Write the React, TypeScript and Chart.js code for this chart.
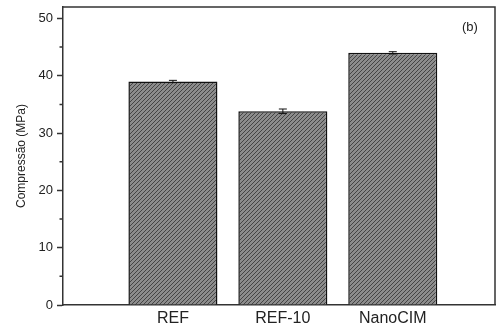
import React, { useEffect, useRef } from "react";
import { Chart, registerables } from "chart.js";

Chart.register(...registerables);

const categories = ["REF", "REF-10", "NanoCIM"];
const positions = [1, 2, 3];
const values = [39.0, 33.8, 44.0];
const errors = [0.2, 0.4, 0.2];
const yMajorTicks = [0, 10, 20, 30, 40, 50];
const yMinorTicks = [5, 15, 25, 35, 45];
const panelLabel = "(b)";
const yTitle = "Compressão (MPa)";

const FONT = "'Liberation Sans', Arial, sans-serif";

function makePattern(): CanvasPattern | string {
  const c = document.createElement("canvas");
  c.width = 4;
  c.height = 4;
  const ctx = c.getContext("2d");
  if (!ctx) return "#666666";
  ctx.fillStyle = "#8c8c8c";
  ctx.fillRect(0, 0, 4, 4);
  ctx.strokeStyle = "#444444";
  ctx.lineWidth = 1;
  ctx.beginPath();
  ctx.moveTo(-1, 5);
  ctx.lineTo(5, -1);
  ctx.moveTo(-1, 1);
  ctx.lineTo(1, -1);
  ctx.moveTo(3, 5);
  ctx.lineTo(5, 3);
  ctx.stroke();
  const p = ctx.createPattern(c, "repeat");
  return p || "#666666";
}

const extrasPlugin = {
  id: "extras",
  afterDatasetsDraw(chart: any) {
    const { ctx, chartArea, scales } = chart;
    const y = scales.y;
    const meta = chart.getDatasetMeta(0);
    ctx.save();
    // error bars
    ctx.strokeStyle = "#111";
    ctx.lineWidth = 1;
    meta.data.forEach((bar: any, i: number) => {
      const x = bar.x;
      const top = y.getPixelForValue(values[i] + errors[i]);
      const bot = y.getPixelForValue(values[i] - errors[i]);
      ctx.beginPath();
      ctx.moveTo(x, top);
      ctx.lineTo(x, bot);
      ctx.moveTo(x - 4, top);
      ctx.lineTo(x + 4, top);
      ctx.moveTo(x - 4, bot);
      ctx.lineTo(x + 4, bot);
      ctx.stroke();
    });
    // frame
    ctx.strokeStyle = "#333";
    ctx.lineWidth = 1.5;
    ctx.beginPath();
    ctx.moveTo(chartArea.left, chartArea.top);
    ctx.lineTo(chartArea.right, chartArea.top);
    ctx.lineTo(chartArea.right, chartArea.bottom);
    ctx.stroke();
    // minor ticks
    ctx.lineWidth = 1.5;
    ctx.beginPath();
    yMinorTicks.forEach((v) => {
      const py = y.getPixelForValue(v);
      ctx.moveTo(chartArea.left - 3.5, py);
      ctx.lineTo(chartArea.left, py);
    });
    ctx.stroke();
    // panel label
    ctx.fillStyle = "#222";
    ctx.font = `13px ${FONT}`;
    ctx.textBaseline = "middle";
    ctx.textAlign = "left";
    ctx.fillText(panelLabel, chartArea.right - 33, chartArea.top + 20);
    ctx.restore();
  },
};

export default function App() {
  const ref = useRef<HTMLCanvasElement>(null);
  useEffect(() => {
    document.body.style.margin = "0";
    const canvas = ref.current;
    if (!canvas) return;
    const pattern = makePattern();
    const chart = new Chart(canvas, {
      type: "bar",
      data: {
        datasets: [
          {
            data: positions.map((p, i) => ({ x: p, y: values[i] })),
            backgroundColor: pattern as any,
            borderColor: "#111",
            borderWidth: 1.5,
            barPercentage: 0.9,
            categoryPercentage: 0.9,
          },
        ],
      },
      options: {
        animation: false,
        responsive: true,
        maintainAspectRatio: false,
        layout: { padding: { left: 0, top: 0, right: 1, bottom: 0 } },
        plugins: { legend: { display: false }, tooltip: { enabled: false } },
        scales: {
          x: {
            type: "linear",
            offset: false,
            min: 0,
            max: 3.93,
            afterBuildTicks: (scale: any) => {
              scale.ticks = positions.map((v) => ({ value: v }));
            },
            afterFit: (scale: any) => {
              scale.height = 22;
              scale.paddingLeft = 0;
              scale.paddingRight = 0;
            },
            grid: { display: false, drawTicks: false, offset: false },
            border: { display: true, color: "#333", width: 1.5 },
            ticks: {
              padding: 4,
              color: "#222",
              font: { family: FONT, size: 16 },
              callback: (v: any) => {
                const i = positions.indexOf(Number(v));
                return i >= 0 ? categories[i] : "";
              },
            },
          },
          y: {
            type: "linear",
            min: 0,
            max: 52,
            afterBuildTicks: (scale: any) => {
              scale.ticks = yMajorTicks.map((v) => ({ value: v }));
            },
            afterFit: (scale: any) => {
              scale.width = 63;
              scale.paddingTop = 7;
              scale.paddingBottom = 0;
            },
            grid: {
              drawOnChartArea: false,
              drawTicks: true,
              tickLength: 6,
              tickWidth: 1.5,
              tickColor: "#333",
            },
            border: { display: true, color: "#333", width: 1.5 },
            ticks: {
              padding: 4,
              color: "#222",
              font: { family: FONT, size: 13 },
            },
            title: {
              display: true,
              text: yTitle,
              color: "#222",
              font: { family: FONT, size: 12 },
              padding: { top: 14, bottom: 0 },
            },
          },
        },
      },
      plugins: [extrasPlugin],
    });
    return () => chart.destroy();
  }, []);
  return (
    <div style={{ position: "absolute", left: 0, top: 0, width: 496, height: 327 }}>
      <canvas ref={ref} />
    </div>
  );
}
